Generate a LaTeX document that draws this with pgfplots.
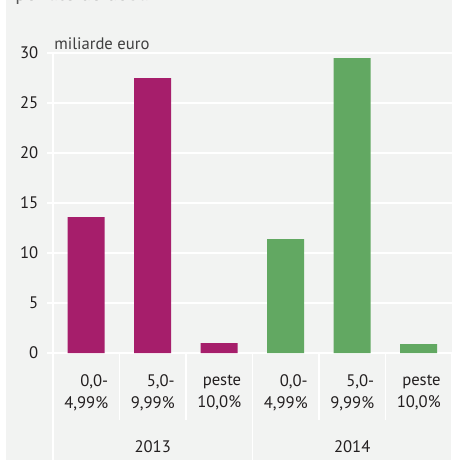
\documentclass[border=0pt]{standalone}
\usepackage{pgfplots}
\pgfplotsset{compat=1.18}
\usepackage{fontspec}
\setmainfont{PT Sans}
\definecolor{bg}{HTML}{F2F3F2}
\definecolor{mag}{HTML}{A61E6B}
\definecolor{grn}{HTML}{62A862}
\definecolor{txt}{HTML}{231F20}
\begin{document}
\begin{tikzpicture}[x=0.75pt,y=-0.75pt]
\useasboundingbox (0,0) rectangle (458,462);
\fill[bg] (6,0) rectangle (452,460);
\node[anchor=base west, text=black!65, font=\fontsize{15}{18}\selectfont, inner sep=0] at (15,0) {pe rate de dobânzi};
\coordinate (O) at (47,353);
\begin{axis}[at={(O)}, anchor=south west, scale only axis,
  width=303.75pt, height=225pt,
  xmin=-0.5902, xmax=5.5, ymin=0, ymax=30,
  axis line style={draw=none},
  major tick length=0pt,
  ytick={0,5,...,30},
  ymajorgrids, grid style={white, line width=1.3pt},
  yticklabel style={font=\fontsize{12.5}{14}\selectfont, text=txt, xshift=-3pt},
  /pgf/number format/assume math mode=true,
  xtick={0,1,2,3,4,5},
  xticklabels={{0,0-\\4,99\%},{5,0-\\9,99\%},{peste\\10,0\%},{0,0-\\4,99\%},{5,0-\\9,99\%},{peste\\10,0\%}},
  xticklabel style={align=right, font=\fontsize{12.5}{16.5}\selectfont, text=txt, yshift=-13pt},
  clip=false]
\draw[white, line width=1.3pt] (axis cs:-0.5,30) -- (axis cs:-0.5,0) -- ++(0pt,-80.25pt);
\draw[white, line width=1.3pt] (axis cs:2.5,0) -- ++(0pt,-80.25pt);
\draw[white, line width=1.3pt] (axis cs:5.5,0) -- ++(0pt,-80.25pt);
\draw[white, line width=1.3pt] (axis cs:0.5,0) -- ++(0pt,-50.25pt);
\draw[white, line width=1.3pt] (axis cs:1.5,0) -- ++(0pt,-50.25pt);
\draw[white, line width=1.3pt] (axis cs:3.5,0) -- ++(0pt,-50.25pt);
\draw[white, line width=1.3pt] (axis cs:4.5,0) -- ++(0pt,-50.25pt);
\addplot[ybar, fill=mag, draw=none, bar width=27.75pt, bar shift=0pt] coordinates {(0,13.6) (1,27.5) (2,1.0)};
\addplot[ybar, fill=grn, draw=none, bar width=27.75pt, bar shift=0pt] coordinates {(3,11.4) (4,29.5) (5,0.9)};
\node[font=\fontsize{12.5}{14}\selectfont, text=txt] at (axis cs:1,0) [yshift=-70.5pt] {2013};
\node[font=\fontsize{12.5}{14}\selectfont, text=txt] at (axis cs:4,0) [yshift=-70.5pt] {2014};
\end{axis}
\node[anchor=base west, text=black!75, font=\fontsize{12.5}{15}\selectfont, inner sep=0] at (54,49) {miliarde euro};
\end{tikzpicture}
\end{document}
